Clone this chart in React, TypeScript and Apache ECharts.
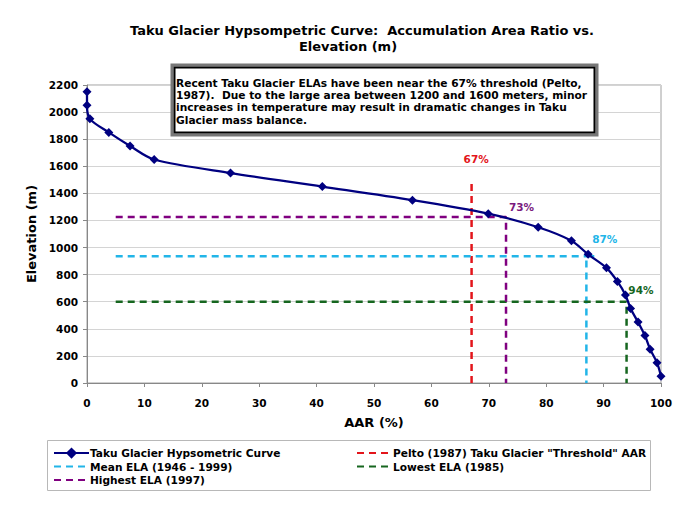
import React, { useEffect, useRef } from "react";
import * as echarts from "echarts";

const aar = [0, 0, 0.5, 3.8, 7.5, 11.7, 25, 41, 56.7, 69.9, 78.6, 84.4, 87.3, 90.5, 92.4, 93.8, 94.7, 96, 97.2, 98.1, 99.3, 100];
const elevation = [2150, 2050, 1950, 1850, 1750, 1650, 1550, 1450, 1350, 1250, 1150, 1050, 950, 850, 750, 650, 550, 450, 350, 250, 150, 50];

const peltoLine = [[67, 0], [67, 1500]];
const meanLine = [[5, 935], [88.5, 935], [87, 935], [87, 0]];
const lowestLine = [[5, 600], [94, 600], [94, 0]];
const highestLine = [[5, 1225], [73, 1225], [73, 0]];

const annotationText = ["67%", "73%", "87%", "94%"];
const annotationPos = [[67.8, 1655], [75.7, 1300], [90.2, 1063], [96.5, 686]];
const annotationColor = ["#E3151B", "#7A1A7E", "#22B5E8", "#16661F"];

const seriesNames = [
  "Taku Glacier Hypsometric Curve",
  "Pelto (1987) Taku Glacier \"Threshold\" AAR",
  "Mean ELA (1946 - 1999)",
  "Lowest ELA (1985)",
  "Highest ELA (1997)",
];

const titleLines = ["Taku Glacier Hypsompetric Curve:  Accumulation Area Ratio vs.", "Elevation (m)"];

const boxLines = [
  "Recent Taku Glacier ELAs have been near the 67% threshold (Pelto,",
  "1987).  Due to the large area between 1200 and 1600 meters, minor",
  "increases in temperature may result in dramatic changes in Taku",
  "Glacier mass balance.",
];

const FONT = "'DejaVu Sans', Verdana, sans-serif";

export default function App() {
  const ref = useRef<HTMLDivElement>(null);
  useEffect(() => {
    if (!ref.current) return;
    const chart = echarts.init(ref.current, undefined, { renderer: "svg" });
    const dashed = (color: string) => ({ color, width: 2.5, type: [7, 5] as any });
    const legendText = { fontFamily: FONT, fontWeight: "bold", fontSize: 10.6, color: "#000", padding: [0, 0, 0, -4] };
    const hiddenSymbol = { color: "rgba(0,0,0,0)", borderColor: "rgba(0,0,0,0)", borderWidth: 0, opacity: 0 };
    const option: any = {
      animation: false,
      backgroundColor: "#fff",
      textStyle: { fontFamily: FONT },
      grid: {
        left: 87, right: 39, top: 85, bottom: 131,
        show: true, borderColor: "#a0a0a0", borderWidth: 1, backgroundColor: "transparent",
      },
      xAxis: {
        type: "value", min: 0, max: 100, interval: 10,
        name: "AAR (%)", nameLocation: "middle", nameGap: 33,
        nameTextStyle: { fontFamily: FONT, fontWeight: "bold", fontSize: 13, color: "#000" },
        axisLine: { show: true, lineStyle: { color: "#888" } },
        axisTick: { show: true, length: 4, lineStyle: { color: "#888" } },
        axisLabel: { fontFamily: FONT, fontWeight: "bold", fontSize: 10.5, color: "#000", margin: 14 },
        splitLine: { show: false },
      },
      yAxis: {
        type: "value", min: 0, max: 2200, interval: 200,
        name: "Elevation (m)", nameLocation: "middle", nameGap: 30, nameRotate: 90,
        nameTextStyle: { fontFamily: FONT, fontWeight: "bold", fontSize: 13, color: "#000" },
        axisLine: { show: true, lineStyle: { color: "#888" } },
        axisTick: { show: true, length: 4, lineStyle: { color: "#888" } },
        axisLabel: { fontFamily: FONT, fontWeight: "bold", fontSize: 10.5, color: "#000", margin: 9, formatter: (v: number) => String(v) },
        splitLine: { show: true, lineStyle: { color: "#d4d4d4", width: 1 } },
      },
      legend: [
        {
          orient: "vertical", left: 48, top: 442.5, itemWidth: 35, itemHeight: 14, itemGap: 2.3,
          data: [
            { name: seriesNames[0] },
            { name: seriesNames[2], itemStyle: hiddenSymbol },
            { name: seriesNames[4], itemStyle: hiddenSymbol },
          ],
          textStyle: legendText,
        },
        {
          orient: "vertical", left: 351, top: 442.5, itemWidth: 35, itemHeight: 14, itemGap: 2.3,
          data: [
            { name: seriesNames[1], itemStyle: hiddenSymbol },
            { name: seriesNames[3], itemStyle: hiddenSymbol },
          ],
          textStyle: legendText,
        },
      ],
      graphic: [
        ...titleLines.map((t, i) => ({
          type: "text", x: i === 0 ? 362 : 348, y: 30 + i * 16.5, z: 12,
          style: { text: t, fontFamily: FONT, fontWeight: "bold", fontSize: 13, fill: "#000", align: "center", verticalAlign: "middle" },
        })),
        { type: "rect", shape: { x: 47.5, y: 440.5, width: 603, height: 50 }, style: { fill: "none", stroke: "#b8b8b8", lineWidth: 1 }, z: 10 },
        { type: "rect", shape: { x: 172, y: 65, width: 425, height: 70 }, style: { fill: "#fff", stroke: "#777", lineWidth: 3 }, z: 10 },
        { type: "rect", shape: { x: 174.5, y: 67.5, width: 420, height: 65 }, style: { fill: "#fff", stroke: "#000", lineWidth: 2 }, z: 11 },
        ...boxLines.map((t, i) => ({
          type: "text", x: 176, y: 83 + i * 12.4, z: 12,
          style: { text: t, fontFamily: FONT, fontWeight: "bold", fontSize: 10.65, fill: "#000", verticalAlign: "middle" },
        })),
      ],
      series: [
        {
          name: seriesNames[0], type: "line", smooth: 0.3,
          data: aar.map((x, i) => [x, elevation[i]]),
          symbol: "diamond", symbolSize: 9,
          lineStyle: { color: "#000080", width: 2.3 },
          itemStyle: { color: "#000080" },
          z: 5,
        },
        { name: seriesNames[1], type: "line", data: peltoLine, symbol: "none", lineStyle: dashed(annotationColor[0]), itemStyle: { color: annotationColor[0] }, z: 3 },
        { name: seriesNames[2], type: "line", data: meanLine, symbol: "none", lineStyle: dashed(annotationColor[2]), itemStyle: { color: annotationColor[2] }, z: 3 },
        { name: seriesNames[3], type: "line", data: lowestLine, symbol: "none", lineStyle: dashed(annotationColor[3]), itemStyle: { color: annotationColor[3] }, z: 3 },
        { name: seriesNames[4], type: "line", data: highestLine, symbol: "none", lineStyle: dashed("#800080"), itemStyle: { color: "#800080" }, z: 3 },
        {
          name: "labels", type: "scatter", symbolSize: 0, silent: true,
          itemStyle: { opacity: 1 },
          data: annotationPos.map((p, i) => ({
            value: p,
            itemStyle: { opacity: 1 },
            label: {
              show: true, position: "inside", formatter: annotationText[i], opacity: 1,
              fontFamily: FONT, fontWeight: "bold", fontSize: 10.5, color: annotationColor[i],
            },
          })),
          z: 6,
        },
      ],
    };
    chart.setOption(option);
    return () => chart.dispose();
  }, []);
  return <div ref={ref} style={{ width: 700, height: 514, position: "absolute", left: 0, top: 0 }} />;
}
